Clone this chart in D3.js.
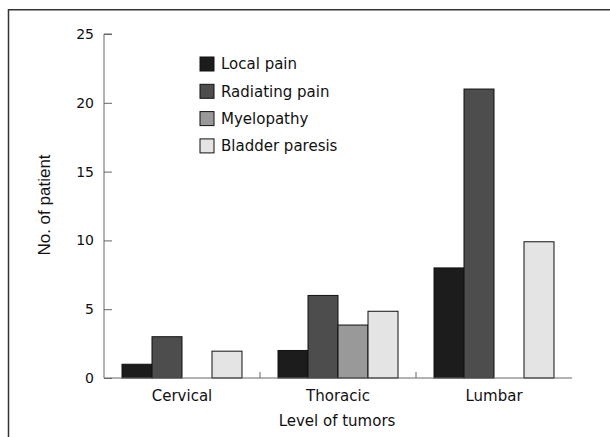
<!DOCTYPE html>
<html>
<head>
<meta charset="utf-8">
<script src="https://cdn.jsdelivr.net/npm/d3@7"></script>
<style>
  body { margin: 0; background: #fff; }
  text { font-family: "DejaVu Sans", sans-serif; fill: #111; }
</style>
</head>
<body>
<svg width="610" height="437"></svg>
<script>
const categories = ["Cervical", "Thoracic", "Lumbar"];
const series = ["Local pain", "Radiating pain", "Myelopathy", "Bladder paresis"];
const localPain = [1, 2, 8];
const radiatingPain = [3, 6, 21];
const myelopathy = [0, 3.85, 0];
const bladderParesis = [1.95, 4.85, 9.9];
const yTicks = [0, 5, 10, 15, 20, 25];
const colors = ["#1c1c1c", "#4d4d4d", "#999999", "#e4e4e4"];

const values = [localPain, radiatingPain, myelopathy, bladderParesis];
const rows = categories.map((c, i) => ({
  cat: c,
  vals: series.map((s, j) => ({ key: s, idx: j, v: values[j][i] }))
}));

const svg = d3.select("svg");

// frame
svg.append("rect")
  .attr("x", 8.5).attr("y", 9.75)
  .attr("width", 620).attr("height", 450)
  .attr("fill", "none").attr("stroke", "#333").attr("stroke-width", 1.5);

const m = { left: 104, right: 572, top: 34, bottom: 378 };

const x0 = d3.scaleBand().domain(categories).range([m.left, m.right]);
const x1 = d3.scaleBand().domain(series).range([18, x0.bandwidth() - 18]);
const y = d3.scaleLinear().domain([0, 25]).range([m.bottom, m.top]);

// bars
svg.append("g")
  .selectAll("g")
  .data(rows)
  .enter()
  .append("g")
  .attr("transform", function (d) { return "translate(" + x0(d.cat) + ",0)"; })
  .selectAll("rect")
  .data(function (d) { return d.vals.filter(function (e) { return e.v > 0; }); })
  .enter()
  .append("rect")
  .attr("x", function (d) { return x1(d.key); })
  .attr("y", function (d) { return y(d.v); })
  .attr("width", x1.bandwidth())
  .attr("height", function (d) { return y(0) - y(d.v); })
  .attr("fill", function (d) { return colors[d.idx]; })
  .attr("stroke", "#111")
  .attr("stroke-width", 1);

// y axis
const yAxis = svg.append("g")
  .attr("transform", "translate(" + m.left + ",0)")
  .call(d3.axisRight(y).tickValues(yTicks).tickSize(8).tickFormat(d3.format("d")));
yAxis.select(".domain").attr("stroke", "#666").attr("d", "M8," + m.top + "H0V" + m.bottom);
yAxis.selectAll(".tick line").attr("stroke", "#666");
yAxis.selectAll(".tick text")
  .attr("x", -10).attr("text-anchor", "end")
  .style("font-size", "14px");

// x axis
const xAxis = svg.append("g")
  .attr("transform", "translate(0," + m.bottom + ")")
  .call(d3.axisBottom(x0).tickSize(0));
xAxis.select(".domain").attr("stroke", "#666").attr("d", "M" + m.left + ",0H" + m.right);
xAxis.selectAll(".tick text").attr("dy", "1.35em").style("font-size", "15px");

// separators between categories
svg.append("g")
  .selectAll("line")
  .data(categories.slice(1))
  .enter()
  .append("line")
  .attr("x1", function (d) { return x0(d); })
  .attr("x2", function (d) { return x0(d); })
  .attr("y1", m.bottom)
  .attr("y2", m.bottom - 6)
  .attr("stroke", "#666");

// axis titles
svg.append("text")
  .attr("x", (m.left + m.right) / 2 - 1)
  .attr("y", 426)
  .attr("text-anchor", "middle")
  .style("font-size", "15px")
  .text("Level of tumors");

svg.append("text")
  .attr("transform", "translate(50,205) rotate(-90)")
  .attr("text-anchor", "middle")
  .style("font-family", "'Liberation Sans', Arial, sans-serif")
  .style("font-size", "17px")
  .text("No. of patient");

// legend
const legend = svg.append("g")
  .selectAll("g")
  .data(series)
  .enter()
  .append("g")
  .attr("transform", function (d, i) { return "translate(200," + (57 + i * 27.3) + ")"; });
legend.append("rect")
  .attr("width", 14).attr("height", 14)
  .attr("fill", function (d, i) { return colors[i]; })
  .attr("stroke", "#111");
legend.append("text")
  .attr("x", 21).attr("y", 7).attr("dy", "0.35em")
  .style("font-size", "15px")
  .text(function (d) { return d; });
</script>
</body>
</html>
